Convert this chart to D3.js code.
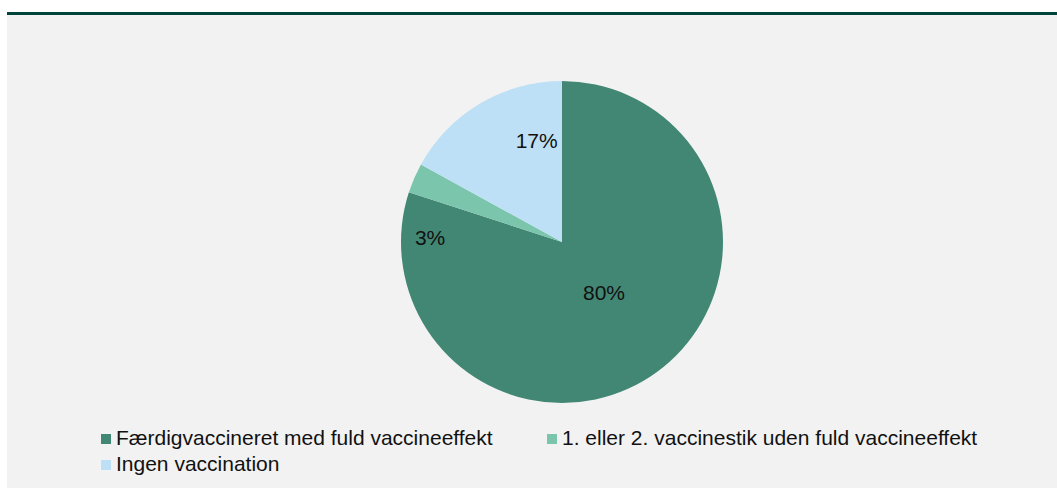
<!DOCTYPE html>
<html>
<head>
<meta charset="utf-8">
<script src="https://cdn.jsdelivr.net/npm/d3@7"></script>
<style>
  html, body { margin: 0; padding: 0; background: #ffffff; }
  svg { display: block; font-family: "Liberation Sans", Arial, sans-serif; }
</style>
</head>
<body>
<div id="chart"></div>
<script>
// data
var categories = ["Færdigvaccineret med fuld vaccineeffekt", "1. eller 2. vaccinestik uden fuld vaccineeffekt", "Ingen vaccination"];
var shares = [80, 3, 17];
var colors = ["#428774", "#7cc5ad", "#bee0f6"];

// where Excel put the labels: angle (deg clockwise from top) and fraction of radius
var labelAngle = [140.5, 272, 346];
var labelRadius = [0.41, 0.82, 0.65];

var W = 1057, H = 488;
var cx = 562, cy = 242, R = 161;

var svg = d3.select("#chart").append("svg")
  .attr("width", W)
  .attr("height", H);

// panel + top rule
svg.append("rect")
  .attr("x", 7).attr("y", 12)
  .attr("width", W - 7).attr("height", H - 12)
  .attr("fill", "#f2f2f2");
svg.append("rect")
  .attr("x", 7).attr("y", 12)
  .attr("width", W - 7).attr("height", 3)
  .attr("fill", "#00443a");

var pie = d3.pie().sort(null).value(function(d) { return d; });
var arc = d3.arc().innerRadius(0).outerRadius(R);

var g = svg.append("g").attr("transform", "translate(" + cx + "," + cy + ")");

g.selectAll("path")
  .data(pie(shares))
  .enter()
  .append("path")
  .attr("d", arc)
  .attr("fill", function(d, i) { return colors[i]; });

//labels
g.selectAll("text")
  .data(shares)
  .enter()
  .append("text")
  .attr("x", function(d, i) { return Math.sin(labelAngle[i] * Math.PI / 180) * labelRadius[i] * R; })
  .attr("y", function(d, i) { return -Math.cos(labelAngle[i] * Math.PI / 180) * labelRadius[i] * R; })
  .attr("text-anchor", "middle")
  .attr("dominant-baseline", "central")
  .attr("font-size", 21)
  .attr("fill", "#111111")
  .text(function(d) { return d + "%"; });

// legend
var legendX = [101, 547, 101];
var legendY = [439, 439, 465];
var legend = svg.append("g").attr("class", "legend");
legend.selectAll("rect")
  .data(categories)
  .enter()
  .append("rect")
  .attr("x", function(d, i) { return legendX[i]; })
  .attr("y", function(d, i) { return legendY[i] - 5; })
  .attr("width", 10)
  .attr("height", 10)
  .attr("fill", function(d, i) { return colors[i]; });
legend.selectAll("text")
  .data(categories)
  .enter()
  .append("text")
  .attr("x", function(d, i) { return legendX[i] + 15; })
  .attr("y", function(d, i) { return legendY[i] + 5.5; })
  .attr("font-size", 21)
  .attr("fill", "#111111")
  .text(function(d) { return d; });
</script>
</body>
</html>
